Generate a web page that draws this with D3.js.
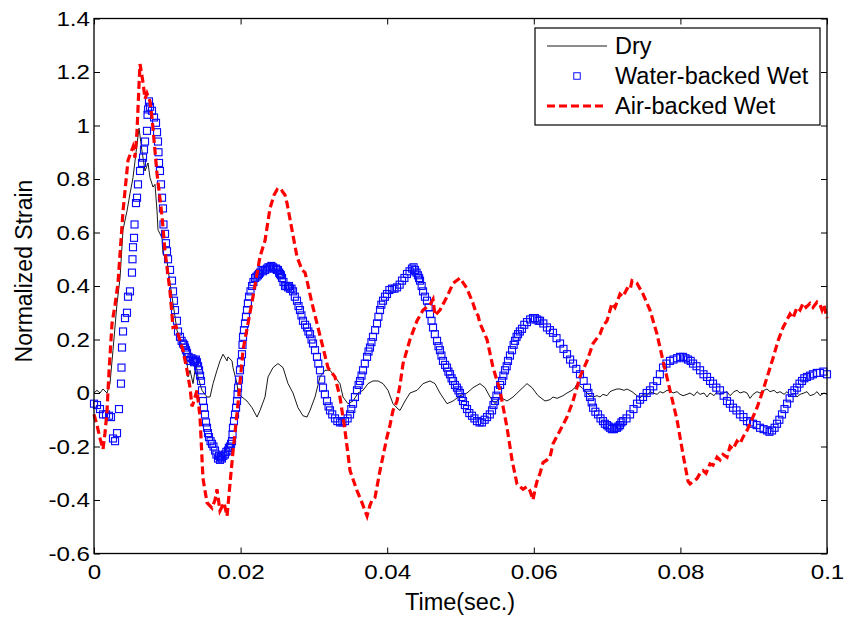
<!DOCTYPE html>
<html>
<head>
<meta charset="utf-8">
<script src="https://cdn.jsdelivr.net/npm/d3@7/dist/d3.min.js"></script>
<style>
  html, body { margin: 0; padding: 0; background: #fff; }
  svg { display: block; }
  text { font-family: "Liberation Sans", Arial, Helvetica, sans-serif; fill: #000; }
</style>
</head>
<body>
<svg id="chart" width="848" height="618"></svg>
<script>
// ---------------- DATA (time in milliseconds, normalized strain) ----------------
const seriesNames = ["Dry", "Water-backed Wet", "Air-backed Wet"];

const xTickValues = [0, 20, 40, 60, 80, 100];
const xTickLabels = ["0", "0.02", "0.04", "0.06", "0.08", "0.1"];
const yTickValues = [-0.6, -0.4, -0.2, 0, 0.2, 0.4, 0.6, 0.8, 1, 1.2, 1.4];
const yTickLabels = ["-0.6", "-0.4", "-0.2", "0", "0.2", "0.4", "0.6", "0.8", "1", "1.2", "1.4"];

const dryData = [
  [0,0],[0.41,0.01],[0.82,0],[1.23,0.015],[1.77,0],[2.18,0.035],[2.59,0.16],[3.14,0.335],[3.55,0.43],[3.96,0.61],
  [4.50,0.68],[4.91,0.745],[5.32,0.805],[5.87,0.93],[6.14,0.99],[6.55,0.905],[6.96,0.83],[7.37,0.86],[7.64,0.805],[8.05,0.77],
  [8.32,0.78],[8.60,0.68],[8.73,0.61],[9.28,0.58],[9.41,0.52],[9.96,0.495],[10.37,0.41],[10.78,0.335],[11.32,0.235],[11.73,0.195],
  [12.14,0.16],[12.69,0.12],[12.82,0.06],[13.10,0.085],[13.51,0.035],[13.92,0.11],[14.19,0.06],[14.73,0.01],[15.42,-0.015],[15.83,-0.015],
  [16.24,0.035],[16.78,0.085],[17.19,0.12],[17.60,0.145],[18.15,0.12],[18.28,0.135],[18.83,0.12],[18.96,0.095],[19.51,0.035],[19.65,0],
  [20.19,-0.015],[20.87,-0.03],[21.56,-0.055],[22.24,-0.09],[22.65,-0.065],[23.33,-0.015],[23.74,0.06],[24.42,0.095],[25.10,0.11],[25.79,0.095],
  [26.47,0.035],[27.15,0],[27.83,-0.055],[28.51,-0.085],[29.06,-0.09],[29.47,-0.065],[30.15,-0.015],[30.83,0.06],[31.52,0.085],[32.20,0.085],
  [32.88,0.06],[33.56,0.035],[33.97,-0.015],[34.65,-0.04],[35.34,-0.03],[36.02,0],[36.70,0.01],[37.38,0.035],[38.06,0.045],[38.75,0.045],
  [39.43,0.035],[40.11,0.01],[40.79,-0.04],[41.48,-0.06],[41.75,-0.065],[42.43,-0.03],[43.11,0],[44.07,0.01],[44.89,0.035],[45.84,0.045],
  [46.52,0.035],[47.20,0],[48.16,-0.04],[48.98,-0.03],[49.93,-0.01],[50.89,0],[51.71,0.02],[52.66,0.035],[53.34,0.02],[54.03,-0.015],
  [54.71,-0.04],[55.39,-0.015],[56.35,-0.03],[57.17,-0.015],[58.12,0.01],[59.07,0.035],[59.76,0.02],[60.58,-0.01],[61.53,-0.03],[62.21,-0.025],
  [62.62,-0.015],[63.17,-0.02],[63.58,-0.015],[63.99,-0.01],[64.53,0],[65.21,0.01],[65.62,0.02],[65.90,0.035],[66.30,0.025],[66.58,0.02],
  [67.26,0],[67.67,-0.01],[68.08,-0.015],[68.62,-0.01],[69.03,-0.015],[69.44,-0.005],[69.99,-0.01],[70.40,0.005],[70.81,0.01],[71.35,0.015],
  [71.76,0.015],[72.31,0.01],[72.72,0.015],[73.40,0.005],[74.08,-0.01],[74.49,-0.02],[74.90,-0.005],[75.45,-0.01],[75.85,0.005],[76.26,0],
  [76.81,-0.005],[77.22,0.005],[77.63,0],[78.18,0.01],[78.58,0.01],[78.99,0],[79.54,0.005],[79.95,-0.005],[80.36,-0.01],[80.90,-0.005],
  [81.31,0],[81.86,-0.01],[82.27,0.005],[82.68,-0.005],[83.22,0],[83.63,-0.015],[84.04,0],[84.59,-0.01],[85.00,0.005],[85.40,-0.005],
  [85.95,0],[86.36,0.005],[86.77,-0.01],[87.32,0.005],[87.72,0.01],[88.13,0],[88.68,0.005],[89.09,0],[89.50,-0.02],[89.91,-0.005],
  [90.45,0.005],[90.86,0],[91.41,0.01],[91.82,0.015],[92.23,0.005],[92.77,0.01],[93.18,0],[93.59,0.005],[94.14,-0.005],[94.55,0.005],
  [94.95,-0.01],[95.50,0],[95.91,-0.015],[96.32,-0.005],[96.86,0],[97.27,0.005],[97.68,-0.01],[98.23,-0.005],[98.64,0.005],[99.05,-0.01],
  [99.59,0],[100,-0.005]
];

const waterData = [
  [0,-0.04],[0.41,-0.045],[0.82,-0.06],[1.23,-0.08],[1.64,-0.08],[2.05,-0.085],[2.32,-0.09],[2.59,-0.17],[2.87,-0.18],[3.14,-0.15],
  [3.41,-0.06],[3.68,0.035],[3.75,0.095],[3.82,0.17],[3.96,0.23],[4.23,0.28],[4.50,0.30],[4.64,0.36],[4.91,0.38],[5.18,0.45],
  [5.25,0.50],[5.32,0.545],[5.46,0.58],[5.53,0.63],[5.73,0.71],[5.87,0.73],[6.00,0.78],[6.28,0.83],[6.55,0.86],[6.69,0.88],
  [6.82,0.91],[6.96,0.94],[7.23,0.98],[7.30,1.04],[7.37,1.06],[7.50,1.09],[7.64,1.07],[7.91,1.055],[8.19,1.03],[8.46,1.01],
  [8.60,0.975],[8.73,0.94],[8.80,0.90],[8.87,0.86],[9.00,0.83],[9.14,0.78],[9.28,0.73],[9.41,0.69],[9.48,0.63],[9.69,0.595],
  [9.82,0.56],[9.96,0.53],[10.10,0.50],[10.37,0.46],[10.64,0.42],[10.78,0.38],[10.91,0.345],[11.05,0.31],[11.32,0.27],[11.46,0.23],
  [11.73,0.21],[11.95,0.195],[12.14,0.185],[12.30,0.18],[12.42,0.17],[12.55,0.16],[12.69,0.15],[12.90,0.135],[13.10,0.12],[13.30,0.13],
  [13.51,0.125],[13.65,0.115],[13.78,0.12],[13.90,0.125],[14.05,0.115],[14.20,0.10],[14.33,0.085],[14.47,0.065],[14.60,0.045],[14.73,0.01],
  [14.87,-0.03],[15.00,-0.055],[15.14,-0.08],[15.28,-0.11],[15.42,-0.13],[15.55,-0.15],[15.69,-0.165],[15.90,-0.18],[16.10,-0.19],[16.30,-0.20],
  [16.51,-0.215],[16.70,-0.23],[16.92,-0.245],[17.05,-0.235],[17.19,-0.25],[17.32,-0.24],[17.46,-0.245],[17.65,-0.235],[17.87,-0.23],[18.05,-0.22],
  [18.28,-0.215],[18.40,-0.205],[18.55,-0.2],[18.70,-0.19],[18.83,-0.18],[18.90,-0.155],[18.96,-0.13],[19.10,-0.105],[19.24,-0.08],[19.38,-0.055],
  [19.51,-0.03],[19.58,-0.005],[19.65,0.02],[19.78,0.05],[19.92,0.085],[20.05,0.115],[20.19,0.145],[20.26,0.18],[20.33,0.21],[20.46,0.235],
  [20.60,0.26],[20.73,0.285],[20.87,0.31],[21.00,0.335],[21.15,0.36],[21.35,0.38],[21.56,0.40],[21.75,0.415],[21.97,0.43],[22.17,0.435],
  [22.37,0.44],[22.50,0.445],[22.65,0.45],[22.85,0.46],[23.06,0.455],[23.35,0.46],[23.60,0.465],[23.80,0.47],[24.01,0.47],[24.20,0.475],
  [24.42,0.47],[24.60,0.465],[24.83,0.465],[24.95,0.46],[25.10,0.46],[25.25,0.45],[25.38,0.445],[25.50,0.44],[25.65,0.43],[25.85,0.415],
  [26.06,0.40],[26.25,0.40],[26.47,0.395],[26.60,0.40],[26.74,0.39],[26.95,0.39],[27.15,0.38],[27.40,0.36],[27.69,0.345],[27.90,0.325],
  [28.10,0.31],[28.30,0.29],[28.51,0.27],[28.80,0.255],[29.06,0.245],[29.25,0.23],[29.47,0.22],[29.68,0.2],[29.88,0.185],[30.15,0.16],
  [30.42,0.135],[30.60,0.11],[30.83,0.085],[31.00,0.05],[31.24,0.02],[31.50,-0.005],[31.79,-0.03],[32.00,-0.05],[32.20,-0.065],[32.50,-0.08],
  [32.88,-0.095],[33.20,-0.105],[33.56,-0.11],[33.90,-0.11],[34.24,-0.105],[34.60,-0.095],[34.93,-0.08],[35.10,-0.06],[35.34,-0.04],[35.60,-0.015],
  [35.88,0.01],[36.10,0.03],[36.29,0.045],[36.50,0.065],[36.70,0.085],[36.95,0.11],[37.25,0.135],[37.45,0.155],[37.65,0.17],[37.85,0.19],
  [38.06,0.21],[38.35,0.235],[38.61,0.26],[38.80,0.285],[39.02,0.31],[39.20,0.33],[39.43,0.345],[39.70,0.36],[39.97,0.37],[40.30,0.385],
  [40.66,0.39],[41.00,0.39],[41.34,0.395],[41.70,0.405],[42.02,0.42],[42.35,0.43],[42.70,0.445],[43.05,0.455],[43.38,0.465],[43.60,0.47],
  [43.79,0.46],[44.00,0.45],[44.20,0.44],[44.35,0.43],[44.48,0.42],[44.70,0.40],[44.89,0.38],[45.15,0.36],[45.43,0.345],[45.65,0.32],
  [45.84,0.295],[46.05,0.27],[46.25,0.245],[46.50,0.22],[46.80,0.195],[47.00,0.175],[47.20,0.16],[47.40,0.14],[47.61,0.12],[47.90,0.105],
  [48.16,0.095],[48.35,0.08],[48.57,0.07],[48.78,0.055],[48.98,0.045],[49.25,0.03],[49.52,0.02],[49.72,0.01],[49.93,0],[50.15,-0.015],
  [50.34,-0.03],[50.60,-0.045],[50.89,-0.06],[51.20,-0.075],[51.57,-0.085],[51.90,-0.095],[52.25,-0.105],[52.60,-0.11],[52.93,-0.11],[53.30,-0.1],
  [53.62,-0.09],[54.00,-0.08],[54.30,-0.065],[54.50,-0.045],[54.71,-0.03],[54.90,-0.01],[55.12,0.01],[55.40,0.03],[55.66,0.045],[55.85,0.065],
  [56.07,0.085],[56.30,0.1],[56.48,0.12],[56.75,0.14],[57.03,0.16],[57.25,0.18],[57.44,0.195],[57.65,0.21],[57.85,0.22],[58.10,0.23],
  [58.39,0.24],[58.70,0.255],[59.07,0.265],[59.50,0.275],[59.89,0.28],[60.15,0.28],[60.44,0.275],[60.65,0.27],[60.85,0.27],[61.30,0.26],
  [61.80,0.245],[62.20,0.235],[62.62,0.225],[63.10,0.205],[63.58,0.185],[64.05,0.165],[64.53,0.145],[64.95,0.125],[65.35,0.11],[65.80,0.09],
  [66.30,0.07],[66.80,0.045],[67.26,0.02],[67.45,0.0],[67.67,-0.015],[67.90,-0.035],[68.08,-0.055],[68.40,-0.07],[68.76,-0.08],[69.10,-0.095],
  [69.44,-0.105],[69.70,-0.115],[69.99,-0.12],[70.20,-0.125],[70.40,-0.13],[70.65,-0.135],[70.94,-0.135],[71.15,-0.13],[71.35,-0.13],[71.55,-0.125],
  [71.76,-0.12],[71.95,-0.11],[72.17,-0.105],[72.65,-0.095],[73.13,-0.08],[73.60,-0.06],[74.08,-0.04],[74.50,-0.025],[74.90,-0.015],[75.40,0],
  [75.85,0.01],[76.30,0.025],[76.81,0.045],[77.20,0.07],[77.63,0.095],[78.10,0.11],[78.58,0.12],[79.05,0.125],[79.54,0.13],[79.95,0.135],
  [80.36,0.135],[80.70,0.13],[81.04,0.125],[81.40,0.12],[81.72,0.11],[82.20,0.1],[82.68,0.085],[83.15,0.07],[83.63,0.06],[84.05,0.045],
  [84.45,0.035],[84.90,0.02],[85.40,0.01],[85.90,-0.01],[86.36,-0.03],[86.75,-0.04],[87.18,-0.055],[87.65,-0.065],[88.13,-0.08],[88.60,-0.09],
  [89.09,-0.105],[89.50,-0.11],[89.91,-0.115],[90.40,-0.12],[90.86,-0.13],[91.35,-0.135],[91.82,-0.14],[92.15,-0.145],[92.50,-0.14],[92.85,-0.13],
  [93.18,-0.115],[93.50,-0.1],[93.86,-0.08],[94.20,-0.06],[94.55,-0.04],[94.90,-0.02],[95.23,0],[95.55,0.01],[95.91,0.02],[96.25,0.035],
  [96.59,0.045],[96.90,0.055],[97.27,0.06],[97.70,0.065],[98.09,0.07],[98.60,0.075],[99.05,0.075],[99.50,0.08],[100,0.07]
];

const airData = [
  [0,-0.08],[0.41,-0.12],[0.82,-0.17],[1.23,-0.21],[1.50,-0.15],[1.77,-0.07],[2.05,0.08],[2.46,0.26],[2.87,0.33],[3.27,0.41],
  [3.96,0.68],[4.64,0.87],[5.05,0.90],[5.32,0.92],[5.59,0.88],[5.87,0.98],[6.14,1.15],[6.28,1.23],[6.69,1.16],[6.96,1.10],
  [7.23,1.12],[7.64,1.09],[7.91,1.03],[8.60,0.82],[9.28,0.66],[9.69,0.53],[10.37,0.38],[10.78,0.245],[11.19,0.25],[11.46,0.22],
  [12.14,0.16],[12.69,0.085],[13.10,0.02],[13.37,-0.05],[13.64,-0.03],[14.05,0.01],[14.46,-0.09],[14.87,-0.32],[15.42,-0.41],[16.10,-0.43],
  [16.51,-0.40],[16.78,-0.36],[17.19,-0.44],[17.74,-0.41],[18.15,-0.46],[18.55,-0.34],[18.96,-0.22],[19.65,-0.04],[20.33,0.16],[20.60,0.20],
  [21.28,0.30],[21.69,0.36],[22.65,0.51],[23.33,0.57],[24.01,0.69],[24.56,0.74],[24.97,0.76],[25.38,0.75],[25.65,0.755],[26.06,0.74],
  [26.33,0.71],[27.01,0.61],[27.69,0.51],[28.38,0.46],[28.79,0.45],[29.06,0.42],[29.74,0.335],[30.56,0.245],[31.24,0.17],[31.92,0.095],
  [32.33,0.08],[32.88,0.06],[33.56,-0.016],[34.24,-0.14],[34.93,-0.29],[35.88,-0.365],[36.56,-0.41],[37.25,-0.46],[37.65,-0.42],[37.93,-0.40],
  [38.34,-0.39],[39.02,-0.29],[39.97,-0.165],[40.38,-0.12],[40.79,-0.065],[41.34,-0.03],[41.75,0.03],[42.16,0.11],[43.11,0.20],[44.07,0.27],
  [44.89,0.31],[45.84,0.33],[46.25,0.35],[46.52,0.29],[47.20,0.31],[48.16,0.36],[48.98,0.41],[49.93,0.43],[50.89,0.39],[51.71,0.335],
  [52.12,0.30],[52.39,0.29],[52.66,0.26],[53.62,0.20],[54.44,0.095],[55.39,0.01],[56.35,-0.13],[57.03,-0.25],[57.71,-0.34],[58.53,-0.36],
  [59.07,-0.35],[59.48,-0.365],[59.89,-0.40],[60.17,-0.36],[60.44,-0.33],[60.85,-0.30],[61.26,-0.26],[61.80,-0.25],[62.21,-0.24],[62.62,-0.19],
  [63.58,-0.14],[64.53,-0.09],[65.35,-0.03],[66.30,0.06],[67.26,0.12],[68.08,0.185],[69.03,0.22],[69.44,0.25],[69.99,0.27],[70.67,0.335],
  [71.08,0.32],[71.76,0.37],[72.17,0.36],[72.72,0.39],[73.13,0.385],[73.40,0.42],[74.08,0.41],[74.90,0.37],[75.85,0.31],[76.81,0.22],
  [77.63,0.12],[78.58,0.01],[79.54,-0.10],[80.36,-0.23],[81.04,-0.33],[81.31,-0.34],[81.72,-0.33],[82.27,-0.32],[82.68,-0.30],[83.09,-0.29],
  [83.50,-0.30],[84.04,-0.265],[84.45,-0.27],[85.00,-0.24],[85.40,-0.25],[85.81,-0.23],[86.36,-0.24],[86.77,-0.20],[87.18,-0.21],[87.72,-0.18],
  [88.13,-0.19],[88.54,-0.165],[89.09,-0.14],[89.50,-0.115],[90.45,-0.055],[91.27,0.01],[91.95,0.07],[92.63,0.13],[93.32,0.195],[94.00,0.245],
  [94.95,0.295],[95.36,0.28],[95.91,0.32],[96.32,0.31],[96.73,0.335],[97.14,0.32],[97.68,0.335],[98.09,0.32],[98.64,0.34],[99.05,0.33],
  [99.32,0.31],[99.59,0.33],[100,0.28]
];

// ---------------- CHART ----------------
const svg = d3.select("#chart");
const W = 848, H = 618;
const plot = { left: 94, right: 827, top: 18.5, bottom: 553.5 };

const x = d3.scaleLinear().domain([0, 100]).range([plot.left, plot.right]);
const y = d3.scaleLinear().domain([-0.6, 1.4]).range([plot.bottom, plot.top]);

svg.append("rect").attr("width", W).attr("height", H).attr("fill", "#fff");

// Series
const line = d3.line().x(d => x(d[0])).y(d => y(d[1]));

svg.append("path")
  .datum(dryData)
  .attr("d", line)
  .attr("fill", "none")
  .attr("stroke", "#000")
  .attr("stroke-width", 0.9);

const sq = 7;
svg.append("g").selectAll("rect")
  .data(waterData)
  .join("rect")
  .attr("x", d => x(d[0]) - sq / 2)
  .attr("y", d => y(d[1]) - sq / 2)
  .attr("width", sq)
  .attr("height", sq)
  .attr("fill", "none")
  .attr("stroke", "#0a0aff")
  .attr("stroke-width", 1.15);

svg.append("path")
  .datum(airData)
  .attr("d", line)
  .attr("fill", "none")
  .attr("stroke", "#ff0000")
  .attr("stroke-width", 3.2)
  .attr("stroke-dasharray", "8,4");

// Axes
const tickFont = 21;
const fmtX = (d, i) => xTickLabels[i];
const fmtY = (d, i) => yTickLabels[i];

const axB = svg.append("g").attr("transform", `translate(0,${plot.bottom})`)
  .call(d3.axisBottom(x).tickValues(xTickValues).tickFormat(fmtX).tickSizeInner(-6).tickSizeOuter(0).tickPadding(11));
const axT = svg.append("g").attr("transform", `translate(0,${plot.top})`)
  .call(d3.axisTop(x).tickValues(xTickValues).tickFormat("").tickSizeInner(-6).tickSizeOuter(0));
const axL = svg.append("g").attr("transform", `translate(${plot.left},0)`)
  .call(d3.axisLeft(y).tickValues(yTickValues).tickFormat(fmtY).tickSizeInner(-6).tickSizeOuter(0).tickPadding(3.5));
const axR = svg.append("g").attr("transform", `translate(${plot.right},0)`)
  .call(d3.axisRight(y).tickValues(yTickValues).tickFormat("").tickSizeInner(-6).tickSizeOuter(0));

[axB, axT, axL, axR].forEach(g => {
  g.select(".domain").remove();
  g.selectAll(".tick line").attr("stroke", "#000").attr("stroke-width", 1);
  g.selectAll("text").attr("font-size", tickFont)
    .attr("font-family", '"Liberation Sans", Arial, sans-serif').attr("fill", "#000")
    .attr("transform", "scale(1.15,1)");
});

// Frame
svg.append("rect")
  .attr("x", plot.left).attr("y", plot.top)
  .attr("width", plot.right - plot.left).attr("height", plot.bottom - plot.top)
  .attr("fill", "none").attr("stroke", "#000").attr("stroke-width", 1.3);

// Axis titles
svg.append("text")
  .attr("x", 460)
  .attr("y", 610)
  .attr("text-anchor", "middle")
  .attr("font-size", 23.5)
  .text("Time(sec.)");

svg.append("text")
  .attr("transform", `translate(32,${(180 + 362) / 2}) rotate(-90)`)
  .attr("text-anchor", "middle")
  .attr("font-size", 23)
  .text("Normalized Strain");

// Legend
const lg = svg.append("g");
lg.append("rect")
  .attr("x", 535).attr("y", 28).attr("width", 285).attr("height", 97)
  .attr("fill", "#fff").attr("stroke", "#000").attr("stroke-width", 1.2);

const rowY = [46, 76, 106];
lg.append("line").attr("x1", 547).attr("x2", 607).attr("y1", rowY[0]).attr("y2", rowY[0])
  .attr("stroke", "#000").attr("stroke-width", 0.9);
lg.append("rect").attr("x", 577 - 3.25).attr("y", rowY[1] - 3.25).attr("width", 6.5).attr("height", 6.5)
  .attr("fill", "none").attr("stroke", "#0a0aff").attr("stroke-width", 1);
lg.append("line").attr("x1", 547).attr("x2", 607).attr("y1", rowY[2]).attr("y2", rowY[2])
  .attr("stroke", "#ff0000").attr("stroke-width", 3.2).attr("stroke-dasharray", "8,4");

lg.selectAll("text.lbl")
  .data(seriesNames)
  .join("text")
  .attr("class", "lbl")
  .attr("x", 615)
  .attr("y", (d, i) => rowY[i] + 8)
  .attr("font-size", 23.5)
  .text(d => d);
</script>
</body>
</html>
